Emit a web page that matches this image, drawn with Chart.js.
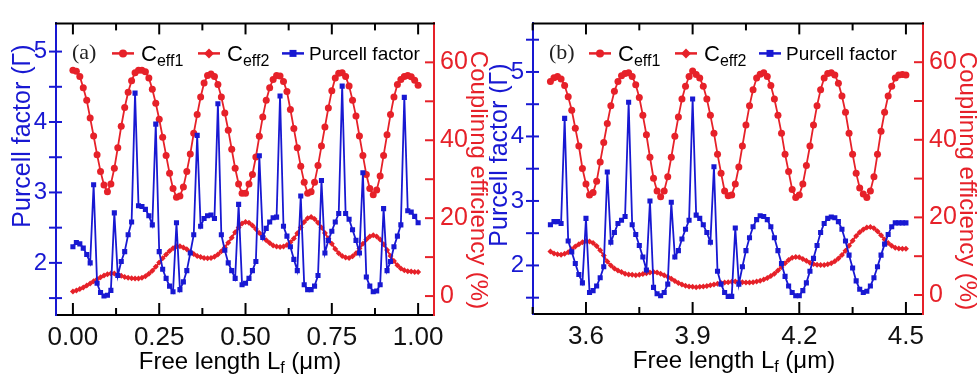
<!DOCTYPE html>
<html>
<head>
<meta charset="utf-8">
<script src="https://cdn.jsdelivr.net/npm/chart.js@4.4.0/dist/chart.umd.min.js"></script>
<style>
  html, body { margin: 0; padding: 0; background: #fff; }
  #wrap { position: relative; width: 978px; height: 378px; }
  canvas { position: absolute; top: 0; }
</style>
</head>
<body>
<div id="wrap">
  <canvas id="chartA" width="489" height="378" style="left:0px"></canvas>
  <canvas id="chartB" width="489" height="378" style="left:489px"></canvas>
</div>
<script>
// ---- panel (a): free length 0 .. 1.00 um, step 0.01
var xStartA = 0, xStepA = 0.01
var ceff1A = [58.0,57.7,56.4,53.5,50.3,45.7,41.1,36.3,32.0,28.5,
  26.8,28.8,32.8,38.1,43.6,48.4,52.3,55.3,57.3,58.0,
  58.0,57.6,56.0,53.1,49.5,45.4,40.8,36.1,31.5,27.6,
  25.4,25.7,28.0,32.0,36.5,41.8,46.6,51.1,54.7,56.6,
  57.0,56.4,54.3,51.1,47.0,42.6,37.7,32.8,28.8,26.4,
  26.4,28.8,31.2,35.7,41.0,46.0,50.3,53.5,55.6,56.6,
  56.5,55.1,52.5,47.9,43.0,38.1,33.3,29.2,26.4,26.8,
  29.2,33.5,38.5,43.4,48.3,52.7,56.0,57.2,57.3,56.4,
  53.9,50.3,46.2,41.1,36.1,31.2,27.6,26.0,27.2,30.8,
  36.1,41.4,46.6,51.1,54.3,55.6,56.4,56.6,56.3,55.4,
  54.1]
var ceff2A = [1.2,1.4,1.8,2.2,2.7,3.2,3.8,4.3,4.8,5.3,
  5.6,5.8,5.8,5.5,5.2,4.9,4.7,4.6,4.5,4.5,
  4.7,5.1,5.7,6.5,7.5,8.6,9.7,10.7,11.6,12.3,
  12.8,12.8,12.5,12.0,11.4,10.8,10.3,10.0,9.8,9.7,
  9.8,10.1,10.7,11.5,12.5,13.7,15.0,16.4,17.6,18.6,
  19.0,18.8,18.1,17.2,16.2,15.2,14.3,13.6,13.0,12.7,
  12.6,12.7,13.1,13.8,14.8,16.1,17.6,19.0,20.0,20.3,
  19.8,18.8,17.6,16.2,14.8,13.4,12.1,11.0,10.3,9.9,
  9.8,10.2,11.0,12.2,13.4,14.5,15.3,15.6,15.3,14.5,
  13.3,11.8,10.3,9.0,7.9,7.1,6.6,6.4,6.3,6.2,
  6.2]
var purcellA = [2.23,2.29,2.27,2.21,2.12,2.00,3.11,1.71,1.58,1.53,
  1.54,1.61,2.71,1.82,2.02,2.16,2.40,2.58,4.41,2.81,
  2.80,2.76,2.67,2.54,3.97,2.16,1.91,1.78,1.67,1.59,
  2.57,1.62,1.73,1.89,2.14,2.40,3.81,2.52,2.63,2.67,
  2.68,2.63,4.26,2.40,2.18,2.00,1.89,1.78,2.83,1.69,
  1.71,1.78,1.89,2.02,3.52,2.36,2.49,2.58,2.64,2.65,
  4.37,2.52,2.38,2.23,2.05,1.89,2.95,1.69,1.62,1.62,
  1.67,1.82,3.17,2.14,2.32,2.45,2.58,2.70,4.51,2.70,
  2.62,2.47,2.32,2.14,3.28,1.80,1.67,1.59,1.60,1.69,
  2.77,1.89,2.02,2.23,2.38,2.54,4.35,2.74,2.72,2.66,
  2.57]
var xTicksA = [0, 0.25, 0.5, 0.75, 1.0]
var xMinorA = [0.125, 0.375, 0.625, 0.875]
var yLTicksA = [2, 3, 4, 5]
var yLMinorA = [1.5, 2.5, 3.5, 4.5]

// ---- panel (b): free length 3.50 .. 4.50 um, step 0.01
var xStartB = 3.5, xStepB = 0.01
var ceff1B = [55.0,56.0,56.3,55.7,54.0,51.1,47.6,43.0,38.4,32.6,
  28.6,25.8,26.4,29.3,34.3,39.3,44.2,48.8,52.5,55.0,
  56.5,57.1,57.3,56.3,54.2,50.9,46.3,41.3,35.5,30.1,
  26.8,25.3,26.8,30.5,35.5,40.9,45.9,50.5,53.8,56.3,
  57.7,56.8,55.9,53.8,50.5,46.3,41.7,36.3,31.4,26.8,
  25.6,25.8,28.6,33.0,38.4,43.8,48.8,52.9,55.9,56.9,
  57.3,56.3,54.0,50.5,46.3,41.7,36.3,31.8,27.2,25.1,
  25.8,28.6,33.4,38.4,43.8,48.8,52.9,55.9,57.1,57.3,
  56.7,54.6,51.3,47.1,41.7,36.3,31.4,27.6,26.0,25.1,
  26.8,30.5,36.3,42.2,47.1,51.3,53.8,55.9,56.7,56.8,
  56.7]
var ceff2B = [11.2,10.7,10.5,10.4,10.6,11.0,11.8,12.5,13.1,13.6,
  13.9,13.8,13.4,12.6,11.5,10.2,8.6,7.6,6.8,6.3,
  5.9,5.5,5.3,5.2,5.1,5.2,5.4,5.6,5.8,5.9,
  5.8,5.5,5.1,4.7,4.2,3.6,3.1,2.7,2.4,2.2,
  2.1,2.0,2.1,2.2,2.3,2.5,2.7,2.9,3.1,3.2,
  3.3,3.4,3.5,3.4,3.3,3.2,3.2,3.3,3.5,3.7,
  4.0,4.4,4.9,5.5,6.3,7.2,8.2,9.0,9.6,9.8,
  9.7,9.3,8.8,8.3,8.0,7.8,7.7,7.7,7.9,8.2,
  8.7,9.4,10.3,11.4,12.7,14.0,15.2,16.2,16.9,17.4,
  17.5,17.2,16.4,15.4,14.3,13.4,12.7,12.2,12.0,11.9,
  11.9]
var purcellB = [2.63,2.68,2.68,2.65,4.28,2.38,2.21,2.03,1.86,1.73,
  2.73,1.58,1.61,1.68,1.81,1.98,3.45,2.36,2.51,2.65,
  2.70,2.76,4.53,2.63,2.48,2.31,2.13,1.93,3.00,1.66,
  1.56,1.53,1.58,1.71,2.98,2.13,2.23,2.41,2.56,2.70,
  4.58,2.78,2.73,2.63,2.51,2.36,3.53,1.91,1.71,1.58,
  1.52,1.52,2.58,1.71,1.98,2.23,2.43,2.60,2.71,2.77,
  2.76,2.71,2.60,2.43,2.23,2.03,1.83,1.68,1.58,1.53,
  1.53,1.61,1.73,1.91,2.11,2.31,2.51,2.65,2.73,2.75,
  2.74,2.68,2.56,2.38,2.16,1.96,1.76,1.63,1.58,1.60,
  1.68,1.81,1.98,2.16,2.33,2.48,2.60,2.66,2.66,2.66,
  2.66]
var xTicksB = [3.6, 3.9, 4.2, 4.5]
var xMinorB = [3.45, 3.75, 4.05, 4.35]
var yLTicksB = [2, 3, 4, 5]
var yLMinorB = [1.5, 2.5, 3.5, 4.5, 5.5]

// right axis (coupling efficiency) is the same in both panels
var yRTicks = [0, 20, 40, 60]
var yRMinor = [10, 30, 50]

var RED = '#e62129'
var BLUE = '#1818d2'
var NARROW = "'Liberation Sans Narrow', 'Arial Narrow', 'Liberation Sans', Arial, sans-serif"
var SANS = "'Liberation Sans', Arial, sans-serif"

function pts(start, step, ys) {
      return ys.map(function (y, i) { return { x: +(start + i * step).toFixed(3), y: y } })
}

function seg(ctx, x1, y1, x2, y2) {
      ctx.beginPath(); ctx.moveTo(x1, y1); ctx.lineTo(x2, y2); ctx.stroke()
}

// text made of parts, some of them subscripts
function richText(ctx, parts, x, y, align) {
      var w = 0
      parts.forEach(function (p) { ctx.font = p.font; w += ctx.measureText(p.t).width })
      var cx = align === 'center' ? x - w / 2 : x
      ctx.textAlign = 'left'
      ctx.textBaseline = 'alphabetic'
      parts.forEach(function (p) {
            ctx.font = p.font
            ctx.fillText(p.t, cx, y + (p.dy || 0))
            cx += ctx.measureText(p.t).width
      })
}

function marker(ctx, shape, x, y, r, color) {
      ctx.fillStyle = color
      ctx.beginPath()
      if (shape === 'circle') ctx.arc(x, y, r, 0, Math.PI * 2)
      else if (shape === 'diamond') { ctx.moveTo(x, y - r); ctx.lineTo(x + r, y); ctx.lineTo(x, y + r); ctx.lineTo(x - r, y); ctx.closePath() }
      else ctx.rect(x - r, y - r, 2 * r, 2 * r)
      ctx.fill()
}

var framePlugin = {
      id: 'frame',
      afterDraw: function (chart, args, o) {
            var ctx = chart.ctx, a = chart.chartArea
            var sx = chart.scales.x, sl = chart.scales.y, sr = chart.scales.y1
            ctx.save()
            ctx.lineWidth = 2
            ctx.strokeStyle = '#000'
            seg(ctx, a.left - 1, a.top, a.right + 1, a.top)
            o.xMajor.forEach(function (v) {
                  var p = sx.getPixelForValue(v)
                  seg(ctx, p, a.bottom, p, a.bottom - 12)
                  seg(ctx, p, a.top, p, a.top + 11)
            })
            o.xMinor.forEach(function (v) {
                  var p = sx.getPixelForValue(v)
                  seg(ctx, p, a.bottom, p, a.bottom - 7)
                  seg(ctx, p, a.top, p, a.top + 7)
            })
            ctx.strokeStyle = BLUE
            o.yLMajor.concat(o.yLMinor).forEach(function (v) {
                  var p = sl.getPixelForValue(v)
                  seg(ctx, a.left - 7, p, a.left + 6, p)
            })
            ctx.strokeStyle = RED
            yRTicks.concat(yRMinor).forEach(function (v) {
                  var p = sr.getPixelForValue(v)
                  seg(ctx, a.right - 9, p, a.right, p)
            })

            // axis titles
            ctx.fillStyle = BLUE
            ctx.save()
            ctx.translate(a.left - 33, o.leftTitleY)
            ctx.rotate(-Math.PI / 2)
            ctx.font = '25px ' + NARROW
            ctx.textAlign = 'center'; ctx.textBaseline = 'middle'
            ctx.fillText('Purcell factor (Γ)', 0, 0)
            ctx.restore()

            ctx.fillStyle = RED
            ctx.save()
            ctx.translate(a.right + 44, o.rightTitleY)
            ctx.rotate(Math.PI / 2)
            ctx.font = '24px ' + NARROW
            ctx.textAlign = 'center'; ctx.textBaseline = 'middle'
            ctx.fillText('Couplinng efficiency (%)', 0, 0)
            ctx.restore()

            ctx.fillStyle = '#000'
            richText(ctx, [
                  { t: 'Free length L', font: '24px ' + NARROW },
                  { t: 'f', font: '16px ' + NARROW, dy: 4 },
                  { t: ' (μm)', font: '24px ' + NARROW }
            ], o.xTitleX, a.bottom + 54, 'center')

            // legend
            var ly = a.top + 30, lx = a.left
            ctx.fillStyle = '#222'
            ctx.font = '22px "Liberation Serif", "Times New Roman", serif'
            ctx.textAlign = 'left'; ctx.textBaseline = 'middle'
            ctx.fillText(o.tag, lx + 16, ly)
            var items = [
                  { x: lx + 56, shape: 'circle', r: 4, color: RED, sub: 'eff1' },
                  { x: lx + 142, shape: 'diamond', r: 5, color: RED, sub: 'eff2' },
                  { x: lx + 226, shape: 'square', r: 3.5, color: BLUE, label: 'Purcell factor' }
            ]
            items.forEach(function (it) {
                  ctx.strokeStyle = it.color
                  ctx.lineWidth = 2.5
                  seg(ctx, it.x, ly, it.x + 22, ly)
                  marker(ctx, it.shape, it.x + 11, ly, it.r, it.color)
                  ctx.fillStyle = '#000'
                  if (it.sub) {
                        richText(ctx, [
                              { t: 'C', font: '22px ' + SANS },
                              { t: it.sub, font: '16px ' + SANS, dy: 5 }
                        ], it.x + 29, ly + 8, 'left')
                  } else {
                        richText(ctx, [{ t: it.label, font: '19px ' + NARROW }], it.x + 27, ly + 7, 'left')
                  }
            })
            ctx.restore()
      }
}

function drawPanel(id, p) {
      var ctx = document.getElementById(id)
      return new Chart(ctx, {
            type: 'line',
            data: {
                  datasets: [{
                        label: 'Purcell factor',
                        data: pts(p.x0, p.dx, p.purcell),
                        yAxisID: 'y',
                        order: 0,
                        borderColor: BLUE,
                        backgroundColor: BLUE,
                        borderWidth: 1.8,
                        lineTension: 0,
                        pointStyle: 'rect',
                        pointRadius: 3.6,
                        pointBorderWidth: 0,
                        fill: false
                  },
                  {
                        label: 'Ceff1',
                        data: pts(p.x0, p.dx, p.ceff1),
                        yAxisID: 'y1',
                        order: 1,
                        borderColor: RED,
                        backgroundColor: RED,
                        borderWidth: 1.8,
                        lineTension: 0,
                        pointStyle: 'circle',
                        pointRadius: 3.5,
                        pointBorderWidth: 0,
                        fill: false
                  },
                  {
                        label: 'Ceff2',
                        data: pts(p.x0, p.dx, p.ceff2),
                        yAxisID: 'y1',
                        order: 2,
                        borderColor: RED,
                        backgroundColor: RED,
                        borderWidth: 2,
                        lineTension: 0,
                        pointStyle: 'rectRot',
                        pointRadius: 3,
                        pointBorderWidth: 0,
                        fill: false
                  }]
            },
            options: {
                  animation: false,
                  responsive: false,
                  layout: { padding: { top: p.top, left: 0, right: 0, bottom: 0 } },
                  plugins: {
                        legend: { display: false },
                        tooltip: { enabled: false },
                        frame: {
                              tag: p.tag,
                              xMajor: p.xTicks, xMinor: p.xMinor,
                              yLMajor: p.yTicks, yLMinor: p.yMinor,
                              leftTitleY: p.leftTitleY, rightTitleY: p.rightTitleY, xTitleX: p.xTitleX
                        }
                  },
                  scales: {
                        x: {
                              type: 'linear',
                              min: p.xMin, max: p.xMax,
                              afterFit: function (s) { s.height = p.bottom },
                              afterBuildTicks: function (s) { s.ticks = p.xTicks.map(function (v) { return { value: v } }) },
                              grid: { display: false, drawTicks: false },
                              border: { display: true, color: '#000', width: 2 },
                              ticks: {
                                    color: '#111', padding: 7, maxRotation: 0,
                                    font: { family: NARROW, size: 26 },
                                    callback: function (v) { return v.toFixed(p.dec) }
                              }
                        },
                        y: {
                              position: 'left',
                              min: p.yMin, max: p.yMax,
                              afterFit: function (s) { s.width = p.leftW },
                              afterBuildTicks: function (s) { s.ticks = p.yTicks.map(function (v) { return { value: v } }) },
                              grid: { display: false, drawTicks: false },
                              border: { display: true, color: BLUE, width: 2 },
                              ticks: { color: BLUE, padding: 9, font: { family: NARROW, size: 24 } }
                        },
                        y1: {
                              position: 'right',
                              min: p.rMin, max: p.rMax,
                              afterFit: function (s) { s.width = p.rightW },
                              afterBuildTicks: function (s) { s.ticks = yRTicks.map(function (v) { return { value: v } }) },
                              grid: { display: false, drawTicks: false },
                              border: { display: true, color: RED, width: 2 },
                              ticks: { color: RED, padding: 6, font: { family: NARROW, size: 25 } }
                        }
                  }
            },
            plugins: [framePlugin]
      })
}

drawPanel('chartA', {
      tag: '(a)', x0: xStartA, dx: xStepA,
      ceff1: ceff1A, ceff2: ceff2A, purcell: purcellA,
      xTicks: xTicksA, xMinor: xMinorA, yTicks: yLTicksA, yMinor: yLMinorA, dec: 2,
      xMin: -0.049, xMax: 1.046, yMin: 1.26, yMax: 5.40, rMin: -4.86, rMax: 70,
      top: 7, bottom: 63, leftW: 56, rightW: 55,
      leftTitleY: 136, rightTitleY: 180, xTitleX: 240
})

drawPanel('chartB', {
      tag: '(b)', x0: xStartB, dx: xStepB,
      ceff1: ceff1B, ceff2: ceff2B, purcell: purcellB,
      xTicks: xTicksB, xMinor: xMinorB, yTicks: yLTicksB, yMinor: yLMinorB, dec: 1,
      xMin: 3.451, xMax: 4.548, yMin: 1.247, yMax: 5.753, rMin: -4.9, rMax: 70,
      top: 13, bottom: 64, leftW: 44, rightW: 55,
      leftTitleY: 155, rightTitleY: 181, xTitleX: 245
})
</script>
</body>
</html>
